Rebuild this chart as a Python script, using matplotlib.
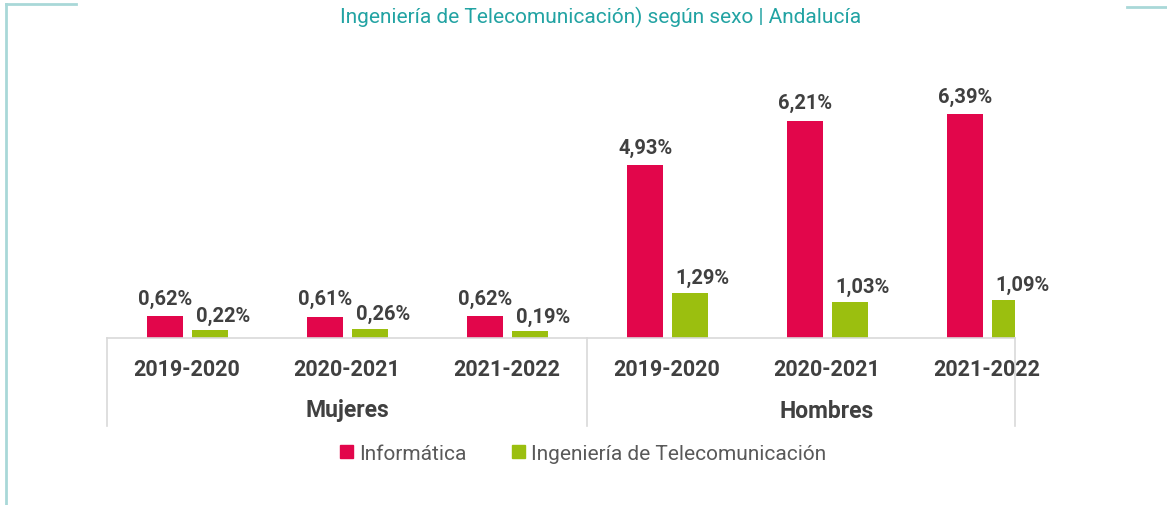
import matplotlib
matplotlib.use("Agg")
import matplotlib.pyplot as plt
from matplotlib.lines import Line2D
from matplotlib.patches import Patch
import numpy as np

# ---- data ------------------------------------------------------------------
GROUPS = ["Mujeres", "Hombres"]
YEARS = ["2019-2020", "2020-2021", "2021-2022"]
INFORMATICA = [0.62, 0.61, 0.62, 4.93, 6.21, 6.39]
TELECO = [0.22, 0.26, 0.19, 1.29, 1.03, 1.09]
SERIES = ["Informática", "Ingeniería de Telecomunicación"]
TITLE = "Ingeniería de Telecomunicación) según sexo | Andalucía"

RED, GREEN = "#e2064b", "#9bbf0f"
TEXT = "#404040"
TEAL = "#22a3a3"
FRAME = "#a9d8d8"
AXIS = "#d9d9d9"

plt.rcParams["font.family"] = ["Roboto", "DejaVu Sans"]

W, H = 1167, 506
fig = plt.figure(figsize=(W / 100, H / 100), dpi=100)

# axes placed in pixels: baseline at y=339, 160 px per category
base_y, top_y = 339, 59
ax = fig.add_axes([107 / W, 1 - base_y / H, (1015 - 107) / W, (base_y - top_y) / H])
ax.set_xlim(-0.5, (1015 - 187) / 160)
ax.set_ylim(0, 8)
ax.axis("off")

x = np.arange(len(INFORMATICA))
bw = 0.225
b1 = ax.bar(x - 0.135, INFORMATICA, bw, color=RED)
b2 = ax.bar(x + 0.145, TELECO, bw, color=GREEN)

def fmt(v):
    return f"{v:.2f}%".replace(".", ",")

for r, v in zip(b1, INFORMATICA):
    ax.annotate(fmt(v), (r.get_x() + r.get_width() / 2, v), xytext=(0, 6),
                textcoords="offset points", ha="center", va="bottom",
                fontsize=14.5, fontweight="bold", color=TEXT)
for r, v in zip(b2, TELECO):
    ax.annotate(fmt(v), (r.get_x() + r.get_width() / 2, v), xytext=(9, 4),
                textcoords="offset points", ha="center", va="bottom",
                fontsize=14.5, fontweight="bold", color=TEXT)

# category axis drawn in the axes' x data / figure pixel y
trans = ax.get_xaxis_transform()
def py(p):
    return -(p - base_y) / (base_y - top_y)

ax.plot([-0.5, (1015 - 187) / 160], [0, 0], color=AXIS, lw=1.2,
        transform=trans, clip_on=False)
for xv in [-0.5, 2.5, (1015 - 187) / 160]:
    ax.plot([xv, xv], [0, py(427)], color=AXIS, lw=1.2, transform=trans,
            clip_on=False)

for i, xi in enumerate(x):
    ax.text(xi, py(370), YEARS[i % 3], transform=trans, ha="center",
            va="center", fontsize=15.5, fontweight="bold", color=TEXT)
for g, name in enumerate(GROUPS):
    ax.text(g * 3 + 1, py(411), name, transform=trans, ha="center",
            va="center", fontsize=16.5, fontweight="bold", color=TEXT)

# legend
handles = [Patch(color=RED), Patch(color=GREEN)]
fig.legend(handles, SERIES, loc="center", bbox_to_anchor=(583 / W, 1 - 454 / H),
           ncol=2, frameon=False, fontsize=15, handlelength=0.6,
           handleheight=0.6, handletextpad=0.3, columnspacing=2.2,
           labelcolor="#595959")

fig.text(601 / W, 1 - 17 / H, TITLE, ha="center", va="center", fontsize=15,
         color=TEAL)

# decorative frame pieces
fig.add_artist(Line2D([6 / W, 76 / W], [1 - 5 / H, 1 - 5 / H], color=FRAME, lw=2))
fig.add_artist(Line2D([6 / W, 6 / W], [1 - 5 / H, 0], color=FRAME, lw=2))
fig.add_artist(Line2D([1127 / W, 1], [1 - 8 / H, 1 - 8 / H], color=FRAME, lw=2))

fig.savefig("out.png", dpi=100)
